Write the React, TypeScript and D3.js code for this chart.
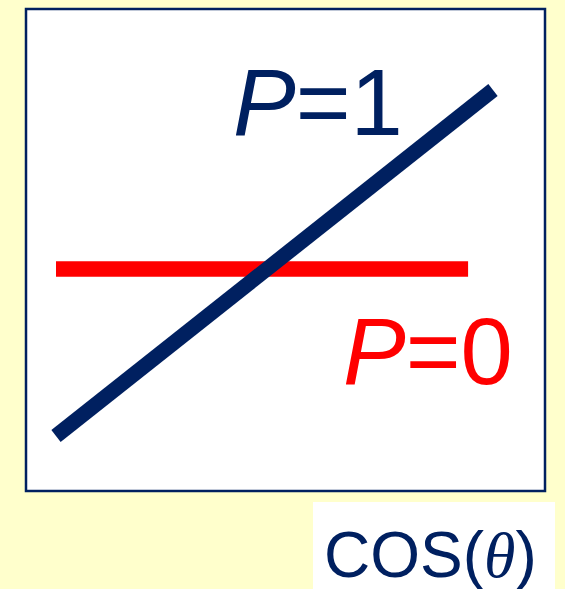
import React from "react";
import * as d3 from "d3";

const W = 565;
const H = 589;

// P=1 line (rising) and P=0 line (flat), in unit coordinates
const lineP1: [number, number][] = [
  [0, 0],
  [1, 1],
];
const lineP0: [number, number][] = [
  [0, 0.483],
  [0.943, 0.483],
];
const labels = ["P=1", "P=0"];
const axisLabel = ["COS(", "θ", ")"];

export default function App() {
  const x = d3.scaleLinear().domain([0, 1]).range([56, 493]);
  const y = d3.scaleLinear().domain([0, 1]).range([436, 90]);
  const line = d3
    .line<[number, number]>()
    .x((d) => x(d[0]))
    .y((d) => y(d[1]));
  const navy = "#002060";
  const red = "#FF0000";
  const sans = "'Liberation Sans', Arial, sans-serif";
  return (
    <svg
      width={W}
      height={H}
      style={{ position: "absolute", left: 0, top: 0, display: "block" }}
    >
      <rect x={0} y={0} width={W} height={H} fill="#FFFFCC" />
      <rect
        x={26}
        y={9}
        width={519}
        height={482}
        fill="#FFFFFF"
        stroke={navy}
        strokeWidth={2.5}
      />
      <path d={line(lineP0) || ""} stroke={red} strokeWidth={15.5} fill="none" />
      <path d={line(lineP1) || ""} stroke={navy} strokeWidth={15} fill="none" />
      <text x={233} y={135} fontFamily={sans} fontSize={94} fill={navy}>
        <tspan fontStyle="italic">{labels[0][0]}</tspan>
        <tspan>{labels[0].slice(1)}</tspan>
      </text>
      <text x={343} y={384} fontFamily={sans} fontSize={94} fill={red}>
        <tspan fontStyle="italic">{labels[1][0]}</tspan>
        <tspan>{labels[1].slice(1)}</tspan>
      </text>
      <rect x={313} y={502} width={242} height={H - 502} fill="#FFFFFF" />
      <text x={324} y={577} fontFamily={sans} fontSize={64} fill={navy}>
        <tspan>{axisLabel[0]}</tspan>
        <tspan fontFamily="'Liberation Serif', 'Times New Roman', serif" fontStyle="italic">
          {axisLabel[1]}
        </tspan>
        <tspan>{axisLabel[2]}</tspan>
      </text>
    </svg>
  );
}
